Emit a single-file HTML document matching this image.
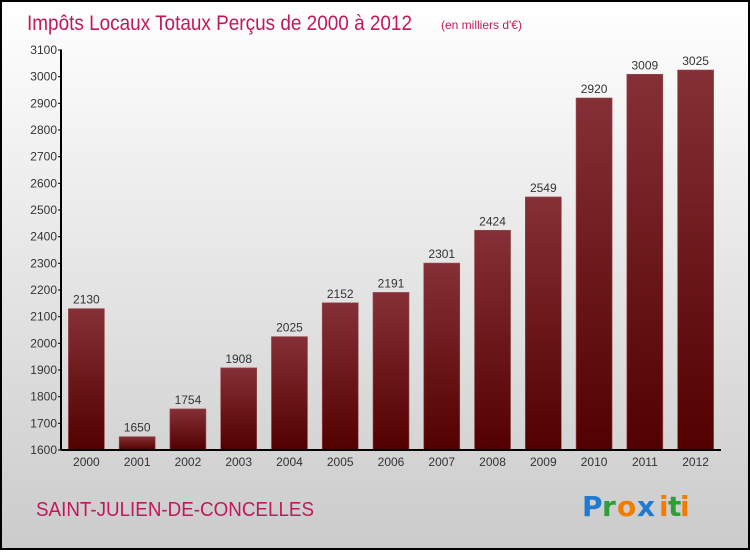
<!DOCTYPE html>
<html><head><meta charset="utf-8"><style>
html,body{margin:0;padding:0}
body{width:750px;height:550px;overflow:hidden;font-family:"Liberation Sans",sans-serif}
</style></head><body>
<svg id="chart" width="750" height="550" xmlns="http://www.w3.org/2000/svg">
<defs>
<linearGradient id="bg" x1="0" y1="0" x2="0" y2="1"><stop offset="0" stop-color="#ffffff"/><stop offset="1" stop-color="#cbcbcb"/></linearGradient>
<linearGradient id="bar" x1="0" y1="0" x2="0" y2="1"><stop offset="0" stop-color="#853036"/><stop offset="1" stop-color="#520000"/></linearGradient>
</defs>
<rect x="1" y="1" width="748" height="548" fill="url(#bg)" stroke="#000" stroke-width="2"/>
<text x="27" y="30" font-size="21" fill="#c2185b" textLength="385" lengthAdjust="spacingAndGlyphs">Impôts Locaux Totaux Perçus de 2000 à 2012</text>
<text x="441" y="29" font-size="12" fill="#c2185b">(en milliers d'€)</text>
<g id="yaxis"></g>
<g id="bars"></g>
<g id="xaxis"></g>
<text x="36" y="516" font-size="20" fill="#c2185b" textLength="278" lengthAdjust="spacingAndGlyphs">SAINT-JULIEN-DE-CONCELLES</text>
<g font-size="28" font-weight="bold" font-family="'DejaVu Sans',sans-serif">
<text x="582" y="516" fill="#1e7bd1">P</text><text x="602" y="516" fill="#2e9e3a">r</text><text x="617" y="516" fill="#f07d00">o</text><text x="637" y="516" fill="#1e7bd1">x</text><text x="659" y="516" fill="#f07d00">i</text><text x="668" y="516" fill="#2e9e3a">t</text><text x="680" y="516" fill="#f07d00">i</text>
</g>
</svg>
<script>
const categories=["2000","2001","2002","2003","2004","2005","2006","2007","2008","2009","2010","2011","2012"];
const values=[2130,1650,1754,1908,2025,2152,2191,2301,2424,2549,2920,3009,3025];
const yTicks=[1600,1700,1800,1900,2000,2100,2200,2300,2400,2500,2600,2700,2800,2900,3000,3100];
const NS="http://www.w3.org/2000/svg";
const yMin=1600,yMax=3100,plotTop=50,plotBottom=450,plotLeft=61,plotRight=721;
const yScale=v=>plotBottom-(v-yMin)/(yMax-yMin)*(plotBottom-plotTop);
const step=(plotRight-plotLeft)/categories.length;
const xScale=i=>plotLeft+step*(i+0.5);
function mk(tag,attrs,parent,txt){const e=document.createElementNS(NS,tag);for(const k in attrs)e.setAttribute(k,attrs[k]);if(txt!==undefined)e.textContent=txt;parent.appendChild(e);return e;}
const ya=document.getElementById('yaxis'),xa=document.getElementById('xaxis'),bg=document.getElementById('bars');
yTicks.forEach(t=>{
  const l=mk('line',{x1:plotLeft-3,x2:plotLeft+1,y1:yScale(t),y2:yScale(t),stroke:'#000'},ya);
  
  
  const tx=mk('text',{x:plotLeft-4,y:yScale(t)+4,'font-size':12,'text-anchor':'end',fill:'#333'},ya,t);
  
  
});
categories.forEach((c,i)=>{
  const w=36,v=values[i];
  const r=mk('rect',{x:xScale(i)-w/2,y:yScale(v),width:w,height:plotBottom-yScale(v),fill:'url(#bar)',stroke:'#9a4a50','stroke-width':0.6},bg);
  
  
  const vl=mk('text',{x:xScale(i),y:yScale(v)-5,'font-size':12,'text-anchor':'middle',fill:'#333'},bg,v);
  
  
  const xl=mk('text',{x:xScale(i),y:plotBottom+16,'font-size':12,'text-anchor':'middle',fill:'#333'},xa,c);
  
  
});
const al=mk('line',{x1:plotLeft,x2:plotLeft,y1:plotTop,y2:plotBottom,stroke:'#000','stroke-width':2},ya);


const bl=mk('line',{x1:plotLeft,x2:plotRight,y1:plotBottom,y2:plotBottom,stroke:'#000','stroke-width':2},xa);


</script>
</body></html>
